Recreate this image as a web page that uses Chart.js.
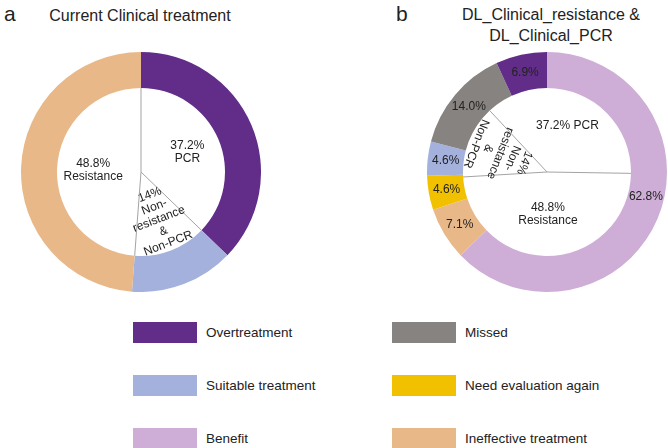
<!DOCTYPE html>
<html>
<head>
<meta charset="utf-8">
<script src="https://cdn.jsdelivr.net/npm/chart.js@4"></script>
<style>
  body { margin: 0; background: #fff; font-family: "Liberation Sans", Arial, sans-serif; color: #222; }
  #wrap { position: relative; width: 668px; height: 448px; overflow: hidden; }
  .tag { position: absolute; font-size: 21px; line-height: 21px; }
  .title { position: absolute; font-size: 16px; line-height: 21px; text-align: center; }
  canvas { position: absolute; }
  .item { position: absolute; height: 22px; display: flex; align-items: center; font-size: 13.5px; }
  .sw { width: 64px; height: 21px; margin-right: 9px; }
</style>
</head>
<body>
<div id="wrap">
  <div class="tag" style="left:4px;top:3px;">a</div>
  <div class="title" style="left:20px;top:5px;width:240px;">Current Clinical treatment</div>
  <div class="tag" style="left:396px;top:3px;">b</div>
  <div class="title" style="left:431px;top:4px;width:240px;">DL_Clinical_resistance &amp;<br>DL_Clinical_PCR</div>
  <canvas id="chartA" width="240" height="240" style="left:21px;top:52px;"></canvas>
  <canvas id="chartB" width="240" height="240" style="left:427px;top:52px;"></canvas>
  <div id="legend"></div>
</div>
<script>
// categories and their colours
const categories = ['Overtreatment', 'Missed', 'Suitable treatment', 'Need evaluation again', 'Benefit', 'Ineffective treatment'];
const colors = {
  'Overtreatment': '#622d89',
  'Missed': '#878381',
  'Suitable treatment': '#a3b1dc',
  'Need evaluation again': '#f1c100',
  'Benefit': '#ceaed6',
  'Ineffective treatment': '#e8b889'
};

// a: current clinical treatment
const aOuterCats = ['Overtreatment', 'Suitable treatment', 'Ineffective treatment'];
const aOuterVals = [37.2, 14.0, 48.8];
const aInnerVals = [37.2, 14, 48.8];
const aInnerText = ['37.2%\nPCR', '14%\nNon-\nresistance\n&\nNon-PCR', '48.8%\nResistance'];

// b: DL_Clinical_resistance & DL_Clinical_PCR
const bOuterCats = ['Benefit', 'Ineffective treatment', 'Need evaluation again', 'Suitable treatment', 'Missed', 'Overtreatment'];
const bOuterVals = [62.8, 7.1, 4.6, 4.6, 14.0, 6.9];
const bOuterText = ['62.8%', '7.1%', '4.6%', '4.6%', '14.0%', '6.9%'];
const bInnerVals = [37.2, 48.8, 14];
const bInnerText = ['37.2% PCR', '48.8%\nResistance', '14%\nNon-\nresistance\n&\nNon-PCR'];

// draws the thin divider lines of the inner pie and the slice texts
const sliceText = {
  id: 'sliceText',
  afterDatasetsDraw(chart) {
    const ctx = chart.ctx;
    chart.data.datasets.forEach((ds, i) => {
      const meta = chart.getDatasetMeta(i);
      meta.data.forEach((arc, j) => {
        if (ds.dividers) {
          ctx.save();
          ctx.strokeStyle = '#a3a3a3';
          ctx.lineWidth = 1;
          ctx.beginPath();
          ctx.moveTo(arc.x, arc.y);
          ctx.lineTo(arc.x + arc.outerRadius * Math.cos(arc.startAngle), arc.y + arc.outerRadius * Math.sin(arc.startAngle));
          ctx.stroke();
          ctx.restore();
        }
        const txt = ds.texts && ds.texts[j];
        if (!txt) return;
        const shift = (ds.angleShift && ds.angleShift[j]) || 0;
        const mid = (arc.startAngle + arc.endAngle) / 2 + shift * Math.PI / 180;
        const rf = (ds.textPos && ds.textPos[j]) || 0.5;
        const r = arc.innerRadius + (arc.outerRadius - arc.innerRadius) * rf;
        const x = arc.x + r * Math.cos(mid);
        const y = arc.y + r * Math.sin(mid);
        const lines = txt.split('\n');
        ctx.save();
        ctx.translate(x, y);
        if (ds.turn && ds.turn[j]) ctx.rotate(mid - Math.PI / 2);
        ctx.fillStyle = '#222';
        ctx.font = '12px "Liberation Sans", Arial, sans-serif';
        ctx.textAlign = 'center';
        ctx.textBaseline = 'middle';
        const lh = 13;
        lines.forEach((l, k) => {
          ctx.fillText(l, 0, (k - (lines.length - 1) / 2) * lh);
        });
        ctx.restore();
      });
    });
  }
};

function makeChart(id, outerCats, outerVals, outerText, innerVals, innerText, innerOpts) {
  const inner = Object.assign({
    data: innerVals,
    backgroundColor: '#ffffff',
    borderWidth: 0,
    weight: 84,
    dividers: true,
    texts: innerText
  }, innerOpts);
  return new Chart(document.getElementById(id), {
    type: 'doughnut',
    data: {
      labels: outerCats,
      datasets: [{
        data: outerVals,
        backgroundColor: outerCats.map(c => colors[c]),
        borderWidth: 0,
        weight: 36,
        texts: outerText,
        angleShift: outerText ? [-9, 0, 0, 0, 0, 0] : null,
        textPos: outerText ? [0.5, 0.5, 0.5, 0.5, 0.5, 0.5] : null
      }, inner]
    },
    options: {
      responsive: false,
      animation: false,
      cutout: 0,
      events: [],
      layout: { padding: 0 },
      plugins: { legend: { display: false }, tooltip: { enabled: false } }
    },
    plugins: [sliceText]
  });
}

makeChart('chartA', aOuterCats, aOuterVals, null, aInnerVals, aInnerText, {
  turn: [false, true, false],
  textPos: [0.6, 0.6, 0.57]
});
makeChart('chartB', bOuterCats, bOuterVals, bOuterText, bInnerVals, bInnerText, {
  rotation: -43,
  turn: [false, false, true],
  textPos: [0.6, 0.5, 0.6]
});

// legend in two columns, three rows
const legend = document.getElementById('legend');
categories.forEach((c, i) => {
  const col = i % 2, row = Math.floor(i / 2);
  const el = document.createElement('div');
  el.className = 'item';
  el.style.left = (133 + col * 259) + 'px';
  el.style.top = (321 + row * 53) + 'px';
  el.innerHTML = '<div class="sw" style="background:' + colors[c] + '"></div><span>' + c + '</span>';
  legend.appendChild(el);
});
</script>
</body>
</html>
